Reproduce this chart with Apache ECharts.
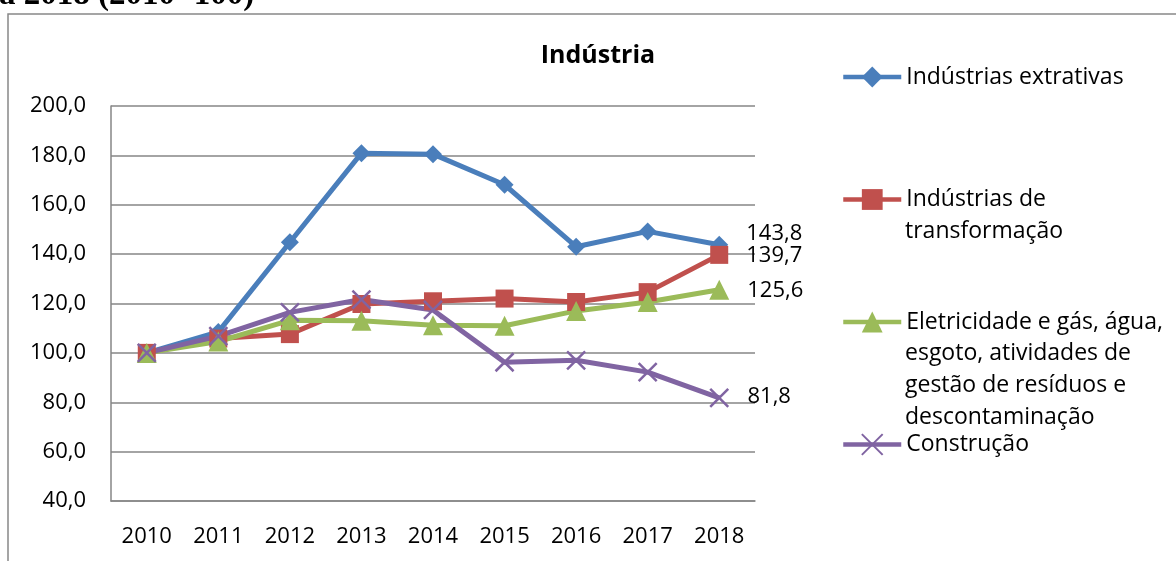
<!DOCTYPE html>
<html lang="pt">
<head>
    <meta charset="utf-8"/>
    <title>Indústria</title>
    <script src="https://cdn.jsdelivr.net/npm/echarts@6/dist/echarts.min.js"></script>
</head>
<body style="margin:0;background:#fff;">
<div id="chart" style="width:1176px;height:561px;"></div>
<script type="text/javascript">
    // dados (2010=100)
    var anos = ['2010', '2011', '2012', '2013', '2014', '2015', '2016', '2017', '2018'];
    var extrativas = [100, 108.5, 144.8, 180.9, 180.5, 168.1, 143.0, 149.2, 143.8];
    var transformacao = [100, 105.8, 107.6, 119.8, 120.9, 122.0, 120.6, 124.6, 139.7];
    var eletricidade = [100, 104.6, 113.2, 113.0, 111.2, 111.0, 117.0, 120.6, 125.6];
    var construcao = [100, 106.8, 116.4, 121.6, 117.4, 96.2, 97.0, 92.2, 81.8];
    var nomes = ['Indústrias extrativas', 'Indústrias de', 'Eletricidade e gás, água,', 'Construção'];
    var linhasExtra = [
        {text: 'transformação', y: 231},
        {text: 'esgoto, atividades de', y: 353},
        {text: 'gestão de resíduos e', y: 385},
        {text: 'descontaminação', y: 417}
    ];

    var fonte = '"Open Sans", sans-serif';

    function virgula(v) {
        return v.toFixed(1).replace('.', ',');
    }

    // so o ultimo ponto tem rotulo
    function comRotulo(arr, offset) {
        return arr.map(function (v, i) {
            if (i !== arr.length - 1) return v;
            return {
                value: v,
                label: {
                    show: true,
                    position: 'right',
                    distance: 18,
                    offset: offset,
                    formatter: function (p) { return virgula(p.value); },
                    color: '#000',
                    fontFamily: fonte,
                    fontSize: 22
                }
            };
        });
    }

    var myChart = echarts.init(document.getElementById('chart'));

    var graficos = [
        // moldura
        {
            type: 'rect',
            shape: {x: 8, y: 14, width: 1400, height: 800},
            style: {fill: 'none', stroke: '#888', lineWidth: 1.5},
            silent: true
        },
        // texto cortado acima do grafico
        {
            type: 'text',
            style: {
                text: 'a 2018 (2010=100)',
                x: -1, y: 12,
                verticalAlign: 'bottom',
                font: 'bold 33px "Liberation Serif", serif',
                fill: '#000'
            }
        }
    ];
    for (var k = 0; k < linhasExtra.length; k++) {
        graficos.push({
            type: 'text',
            style: {
                text: linhasExtra[k].text,
                x: 905, y: linhasExtra[k].y,
                verticalAlign: 'middle',
                font: '23px ' + fonte,
                fill: '#000'
            }
        });
    }

    var option = {
        animation: false,
        title: {
            text: 'Indústria',
            left: 593,
            top: 38,
            textAlign: 'center',
            textStyle: {fontFamily: fonte, fontSize: 25, fontWeight: 'bold', color: '#000'}
        },
        legend: {
            orient: 'vertical',
            left: 841,
            top: 65,
            padding: 0,
            itemWidth: 58,
            itemHeight: 26,
            itemGap: 98.5,
            lineStyle: {width: 4.5},
            textStyle: {fontFamily: fonte, fontSize: 23, color: '#000', lineHeight: 24},
            data: nomes
        },
        grid: {left: 111, right: 421, top: 106, bottom: 60},
        xAxis: {
            type: 'category',
            data: anos,
            boundaryGap: true,
            axisLine: {lineStyle: {color: '#868686', width: 1.5}},
            axisTick: {show: false},
            axisLabel: {color: '#000', fontFamily: fonte, fontSize: 22, margin: 25}
        },
        yAxis: {
            type: 'value',
            min: 40,
            max: 200,
            interval: 20,
            axisLine: {show: true, lineStyle: {color: '#868686', width: 1.5}},
            axisTick: {show: false},
            splitLine: {lineStyle: {color: '#868686', width: 1.5}},
            axisLabel: {
                color: '#000', fontFamily: fonte, fontSize: 22, margin: 25,
                formatter: function (v) { return virgula(v); }
            }
        },
        graphic: graficos,
        series: [
            {
                name: nomes[0],
                type: 'line',
                data: comRotulo(extrativas, [0, -11]),
                symbol: 'diamond',
                symbolSize: 18,
                lineStyle: {color: '#4A7EBB', width: 5},
                itemStyle: {color: '#4A7EBB'}
            },
            {
                name: nomes[1],
                type: 'line',
                data: comRotulo(transformacao, [0, 1]),
                symbol: 'rect',
                symbolSize: 18,
                lineStyle: {color: '#C0504D', width: 5},
                itemStyle: {color: '#C0504D'}
            },
            {
                name: nomes[2],
                type: 'line',
                data: comRotulo(eletricidade, [0, 1]),
                symbol: 'triangle',
                symbolSize: 20,
                lineStyle: {color: '#9BBB59', width: 5},
                itemStyle: {color: '#9BBB59'}
            },
            {
                name: nomes[3],
                type: 'line',
                data: comRotulo(construcao, [0, -1]),
                symbol: 'path://M0,0L10,10M10,0L0,10',
                symbolSize: 18,
                lineStyle: {color: '#8064A2', width: 5},
                itemStyle: {color: '#8064A2', borderColor: '#8064A2', borderWidth: 2.5}
            }
        ]
    };
    myChart.setOption(option);
</script>
</body>
</html>
